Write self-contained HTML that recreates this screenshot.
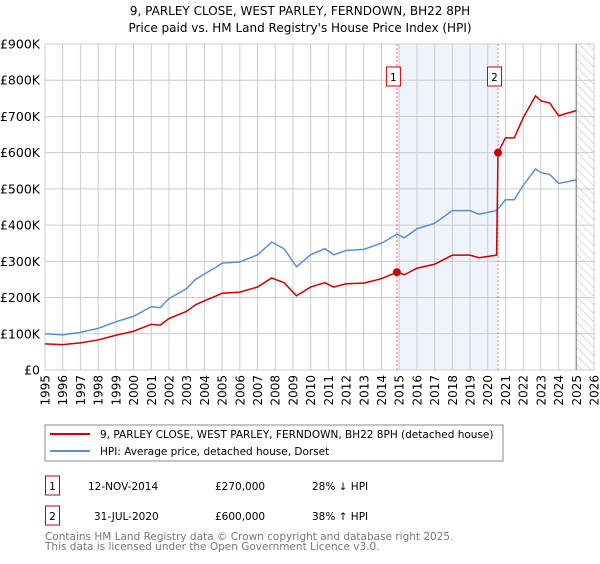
<!DOCTYPE html>
<html><head><meta charset="utf-8"><style>
body{margin:0;background:#fff;font-family:"DejaVu Sans","Liberation Sans",sans-serif;}
svg text{font-family:"DejaVu Sans","Liberation Sans",sans-serif;}
</style></head><body>
<svg id="c" width="600" height="560" xmlns="http://www.w3.org/2000/svg">
<defs><pattern id="hatch" width="6" height="6" patternUnits="userSpaceOnUse" patternTransform="rotate(-45)"><line x1="0" y1="0" x2="0" y2="6" stroke="#bbb" stroke-width="1"/></pattern></defs>
<text x="300" y="15" text-anchor="middle" font-size="12" fill="#000">9, PARLEY CLOSE, WEST PARLEY, FERNDOWN, BH22 8PH</text>
<text x="300" y="32" text-anchor="middle" font-size="12" fill="#000">Price paid vs. HM Land Registry's House Price Index (HPI)</text>
<g id="grid"></g><g id="marks"></g><g id="axes"></g>
<rect x="45" y="425" width="458" height="36" fill="#fff" stroke="#888"/>
<line x1="50" y1="434" x2="90" y2="434" stroke="#cc0000" stroke-width="2"/>
<text x="100" y="438" font-size="10.5">9, PARLEY CLOSE, WEST PARLEY, FERNDOWN, BH22 8PH (detached house)</text>
<line x1="50" y1="451" x2="90" y2="451" stroke="#5b8fd4" stroke-width="2"/>
<text x="100" y="455" font-size="10.5">HPI: Average price, detached house, Dorset</text>
<rect x="45.5" y="476" width="14" height="19" fill="#fff" stroke="#cc0000"/>
<text x="52.5" y="490" font-size="10.5" text-anchor="middle">1</text>
<text x="88" y="490" font-size="10.5">12-NOV-2014</text>
<text x="215" y="490" font-size="10.5">£270,000</text>
<text x="312" y="490" font-size="10.5">28% ↓ HPI</text>
<rect x="45.5" y="506" width="14" height="19" fill="#fff" stroke="#cc0000"/>
<text x="52.5" y="520" font-size="10.5" text-anchor="middle">2</text>
<text x="94" y="520" font-size="10.5">31-JUL-2020</text>
<text x="215" y="520" font-size="10.5">£600,000</text>
<text x="312" y="520" font-size="10.5">38% ↑ HPI</text>
<text x="45" y="540" font-size="10.5" fill="#777">Contains HM Land Registry data © Crown copyright and database right 2025.</text>
<text x="45" y="550" font-size="10.5" fill="#777">This data is licensed under the Open Government Licence v3.0.</text>
</svg>
<script>
const yTicks=[0,100,200,300,400,500,600,700,800,900];
const yLabels=["£0","£100K","£200K","£300K","£400K","£500K","£600K","£700K","£800K","£900K"];
const years=[1995,1996,1997,1998,1999,2000,2001,2002,2003,2004,2005,2006,2007,2008,2009,2010,2011,2012,2013,2014,2015,2016,2017,2018,2019,2020,2021,2022,2023,2024,2025,2026];
const hpiX=[1995,1996,1997,1998,1999,2000,2001,2001.5,2002,2003,2003.5,2004,2004.7,2005,2006,2007,2007.8,2008.5,2009.2,2010,2010.8,2011.3,2012,2013,2014,2014.87,2015.3,2016,2017,2018,2019,2019.5,2020.5,2021,2021.5,2022,2022.7,2023,2023.5,2024,2025];
const hpiY=[100,97,104,115,133,148,175,172,197,225,250,265,285,295,298,318,353,335,285,318,335,318,330,333,350,375,365,390,405,440,440,430,440,470,470,510,555,545,540,515,525];
const propX=[1995,1996,1997,1998,1999,2000,2001,2001.5,2002,2003,2003.5,2004,2004.7,2005,2006,2007,2007.8,2008.5,2009.2,2010,2010.8,2011.3,2012,2013,2014,2014.87,2015.3,2016,2017,2018,2019,2019.5,2020.5,2020.58,2021,2021.5,2022,2022.7,2023,2023.5,2024,2025];
const propY=[72,70,75,83,96,107,126,124,142,162,180,191,205,212,215,229,254,241,205,229,241,229,238,240,252,270,263,281,292,317,317,310,317,600,641,641,696,757,743,737,702,716];
const salesX=[2014.87,2020.58];
const salesY=[270,600];
const X0=45,X1=594,Y0=370,Y1=44;
const xs=y=>X0+(y-1995)*(X1-X0)/31;
const ys=v=>Y0-v*(Y0-Y1)/900;
const NS="http://www.w3.org/2000/svg";
function mk(p,t,a){const e=document.createElementNS(NS,t);for(const k in a)e.setAttribute(k,a[k]);p.appendChild(e);return e;}
const grid=document.getElementById('grid'),marks=document.getElementById('marks'),axes=document.getElementById('axes');
const sh=mk(grid,'rect',{x:xs(salesX[0]),y:Y1,width:xs(salesX[1])-xs(salesX[0]),height:Y0-Y1,fill:'#eef3fc'});


const ht=mk(grid,'rect',{x:xs(2025),y:Y1,width:X1-xs(2025),height:Y0-Y1,fill:'url(#hatch)'});


yTicks.forEach((v,i)=>{
 const l=mk(grid,'line',{x1:X0,x2:X1,y1:ys(v),y2:ys(v),stroke:'#ccc','stroke-width':1});
 
 
 const t=mk(axes,'text',{x:X0-5,y:ys(v)+4.5,'text-anchor':'end','font-size':'12.5',fill:'#000'});
 t.textContent=yLabels[i];
 
 
});
years.forEach(y=>{
 const l=mk(grid,'line',{x1:xs(y),x2:xs(y),y1:Y1,y2:Y0,stroke:'#ccc','stroke-width':1});
 
 
 const t=mk(axes,'text',{x:0,y:0,'text-anchor':'end','font-size':'12',transform:`translate(${xs(y)+4.5},${Y0+5}) rotate(-90)`});
 t.textContent=y;
 
 
});
const nl=mk(grid,'line',{x1:xs(2025),x2:xs(2025),y1:Y1,y2:Y0,stroke:'#999','stroke-width':1.5});


salesX.forEach((sx,i)=>{
 const l=mk(grid,'line',{x1:xs(sx),x2:xs(sx),y1:Y1,y2:Y0,stroke:'#f07070','stroke-width':1,'stroke-dasharray':'2,2'});
 
 
 const r=mk(axes,'rect',{x:xs(sx)-10.5,y:67,width:14,height:19,fill:'#fff',stroke:'#cc0000'});
 
 
 const t=mk(axes,'text',{x:xs(sx)-3.5,y:81,'text-anchor':'middle','font-size':'10.5'});
 t.textContent=String(i+1);
 
 
});
const hp=mk(marks,'polyline',{points:hpiX.map((x,i)=>xs(x)+','+ys(hpiY[i])).join(' '),fill:'none',stroke:'#5b8fd4','stroke-width':1.5});


const pp=mk(marks,'polyline',{points:propX.map((x,i)=>xs(x)+','+ys(propY[i])).join(' '),fill:'none',stroke:'#cc0000','stroke-width':1.5});


salesX.forEach((x,i)=>{
 const c=mk(marks,'circle',{cx:xs(x),cy:ys(salesY[i]),r:4,fill:'#cc0000'});
 
 
});
</script>
</body></html>
